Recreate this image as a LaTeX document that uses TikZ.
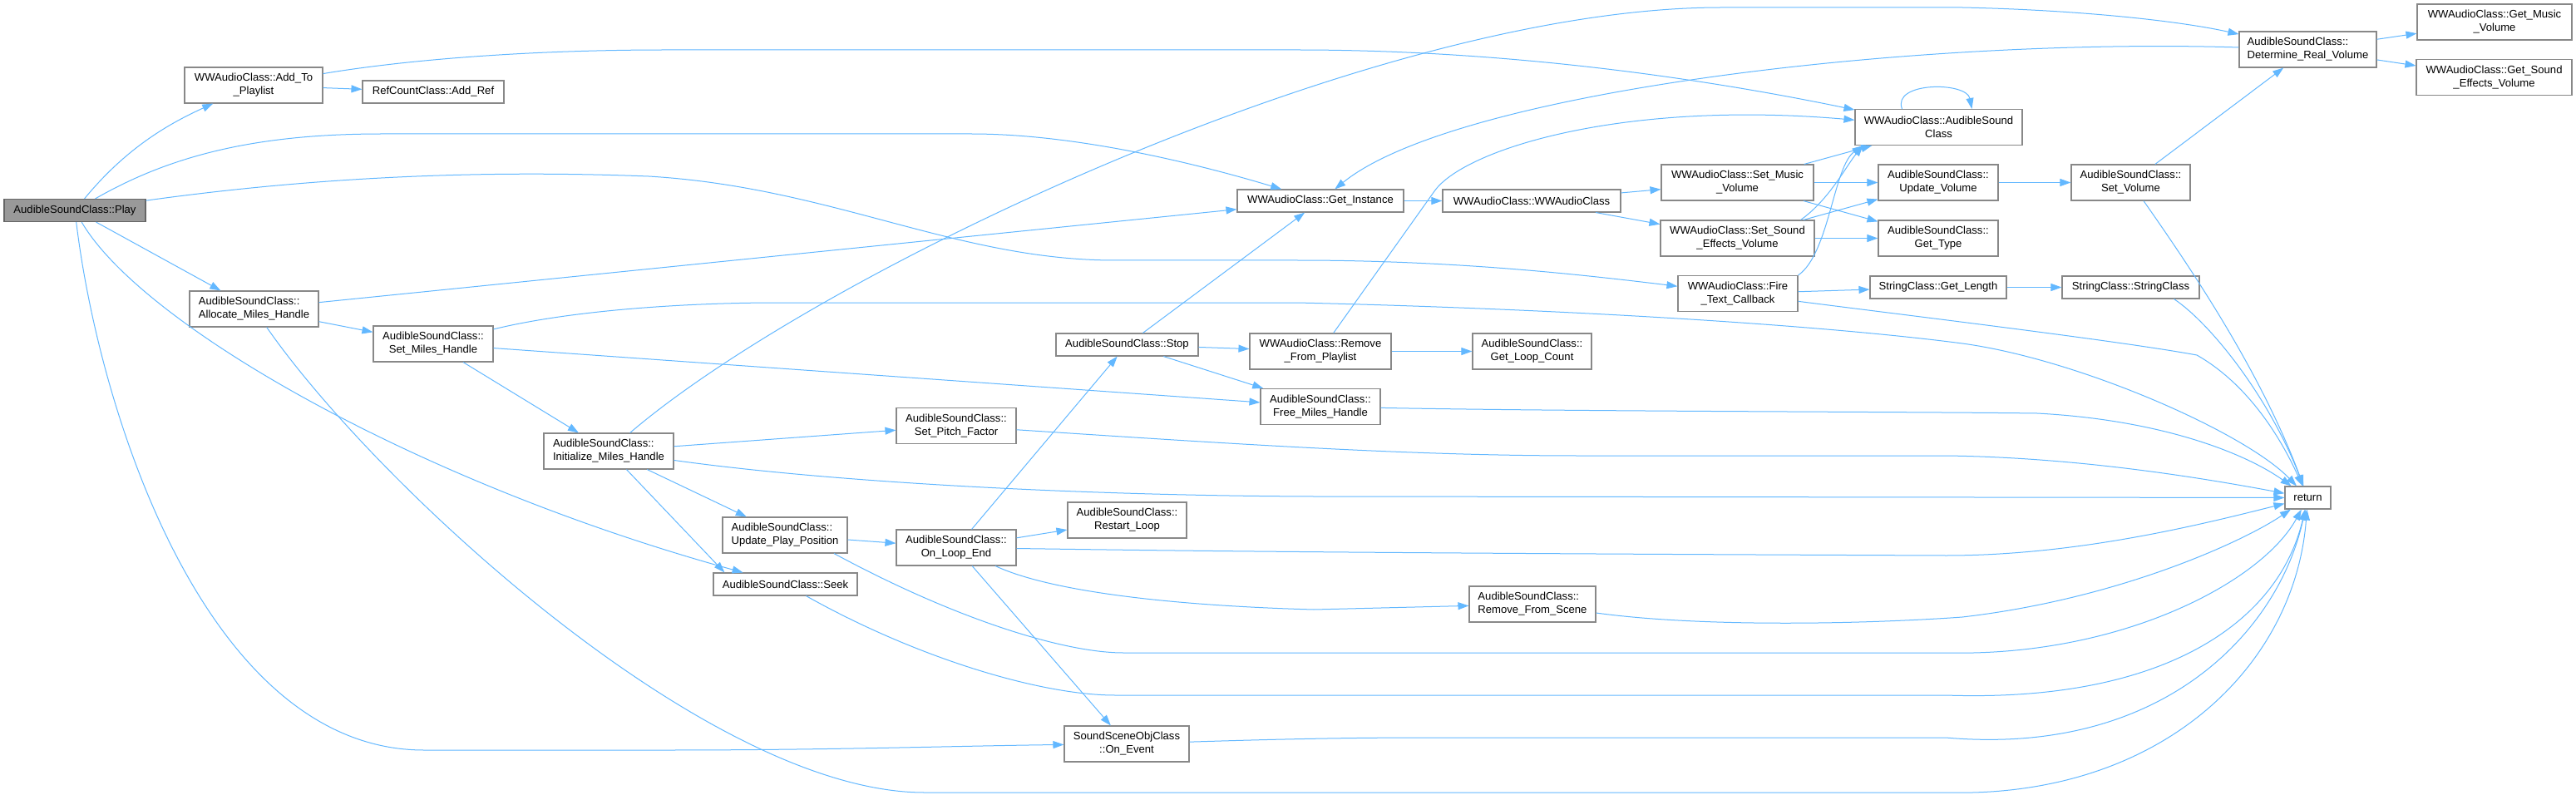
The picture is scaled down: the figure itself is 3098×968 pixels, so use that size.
\documentclass[tikz,border=0pt]{standalone}
\usepackage{fontspec}
\setmainfont{Liberation Sans}
\usetikzlibrary{arrows.meta,calc}
\definecolor{edgec}{HTML}{63B8FF}
\definecolor{nbord}{HTML}{888888}
\definecolor{rootfill}{HTML}{999999}
\definecolor{rootbord}{HTML}{666666}
\begin{document}
\begin{tikzpicture}[x=1pt,y=-1pt,
  fn/.style={draw=nbord, fill=white, line width=1.1pt, inner sep=0pt,
    font=\fontsize{13.1}{16}\selectfont, minimum height=43pt, align=center},
  lft/.style={align=left},
  one/.style={minimum height=27pt},
  rootn/.style={fill=rootfill, draw=rootbord},
  e/.style={draw=edgec, line width=1pt, -{Triangle[length=13pt,width=9pt]}},
]
\fill[white] (0,0) rectangle (3098,968);
\useasboundingbox (0,0) rectangle (3098,968);

% nodes
\node[fn, one, rootn, minimum width=170pt] (play) at (90,253) {AudibleSoundClass::Play};
\node[fn, minimum width=166pt] (addpl) at (305,102.5) {WWAudioClass::Add\_To\\\_Playlist};
\node[fn, one, minimum width=170pt] (addref) at (521,110.5) {RefCountClass::Add\_Ref};
\node[fn, lft, minimum width=155pt] (alloc) at (305.5,371.5) {AudibleSoundClass::\\Allocate\_Miles\_Handle};
\node[fn, minimum width=144pt] (setmh) at (521,413.5) {AudibleSoundClass::\\Set\_Miles\_Handle};
\node[fn, lft, minimum width=156pt] (init) at (732,542.5) {AudibleSoundClass::\\Initialize\_Miles\_Handle};
\node[fn, minimum width=144pt] (pitch) at (1150,512) {AudibleSoundClass::\\Set\_Pitch\_Factor};
\node[fn, lft, minimum width=150pt] (upd) at (944,643.5) {AudibleSoundClass::\\Update\_Play\_Position};
\node[fn, one, minimum width=173pt] (seek) at (944.5,702.5) {AudibleSoundClass::Seek};
\node[fn, minimum width=144pt] (loopend) at (1150,658.5) {AudibleSoundClass::\\On\_Loop\_End};
\node[fn, minimum width=143pt] (restart) at (1355.5,625.5) {AudibleSoundClass::\\Restart\_Loop};
\node[fn, minimum width=150pt] (onevent) at (1355,894.5) {SoundSceneObjClass\\::On\_Event};
\node[fn, one, minimum width=171pt] (stop) at (1355.5,414.5) {AudibleSoundClass::Stop};
\node[fn, minimum width=170pt] (rmpl) at (1588,422.5) {WWAudioClass::Remove\\\_From\_Playlist};
\node[fn, minimum width=144pt] (freemh) at (1588,489) {AudibleSoundClass::\\Free\_Miles\_Handle};
\node[fn, one, minimum width=200pt] (getinst) at (1588,241.5) {WWAudioClass::Get\_Instance};
\node[fn, one, minimum width=214pt] (wwctor) at (1842,241.5) {WWAudioClass::WWAudioClass};
\node[fn, minimum width=183pt] (setmusic) at (2089.5,219.5) {WWAudioClass::Set\_Music\\\_Volume};
\node[fn, minimum width=185pt] (setsfx) at (2089.5,286.5) {WWAudioClass::Set\_Sound\\\_Effects\_Volume};
\node[fn, minimum width=144pt] (fire) at (2090,353) {WWAudioClass::Fire\\\_Text\_Callback};
\node[fn, minimum width=143pt] (loopcount) at (1842.5,422.5) {AudibleSoundClass::\\Get\_Loop\_Count};
\node[fn, minimum width=201pt] (audctor) at (2331.5,153) {WWAudioClass::AudibleSound\\Class};
\node[fn, minimum width=144pt] (updvol) at (2331,219.5) {AudibleSoundClass::\\Update\_Volume};
\node[fn, minimum width=144pt] (gettype) at (2331,286.5) {AudibleSoundClass::\\Get\_Type};
\node[fn, one, minimum width=164pt] (getlen) at (2331,345.5) {StringClass::Get\_Length};
\node[fn, minimum width=143pt] (setvol) at (2562.5,219.5) {AudibleSoundClass::\\Set\_Volume};
\node[fn, one, minimum width=165pt] (strctor) at (2562.5,345.5) {StringClass::StringClass};
\node[fn, lft, minimum width=165pt] (detvol) at (2775.5,59.5) {AudibleSoundClass::\\Determine\_Real\_Volume};
\node[fn, minimum width=186pt] (getmusic) at (3000,26.5) {WWAudioClass::Get\_Music\\\_Volume};
\node[fn, minimum width=187pt] (getsfx) at (2999.5,93) {WWAudioClass::Get\_Sound\\\_Effects\_Volume};
\node[fn, one, minimum width=55pt] (ret) at (2775.5,598.5) {return};
\node[fn, lft, minimum width=152pt] (rmscene) at (1843,726.5) {AudibleSoundClass::\\Remove\_From\_Scene};

% edges from Play
\draw[e] (play) .. controls (150,180) and (200,150) .. (addpl);
\draw[e] (play) .. controls (200,190) and (300,161) .. (459,161) -- (1168,161) .. controls (1300,161) and (1450,200) .. (getinst);
\draw[e] (play) .. controls (400,210) and (600,205) .. (780,212) .. controls (1000,225) and (1150,313) .. (1341,313) -- (1560,313) .. controls (1750,313) and (1900,330) .. (fire);
\draw[e] (play) -- (alloc);
\draw[e] (play) .. controls (170,390) and (500,580) .. (seek);
\draw[e] (play) .. controls (120,500) and (250,902) .. (510,902) -- (800,902) .. controls (1000,902) and (1150,897) .. (onevent);

% Add_To_Playlist
\draw[e] (addpl) -- (addref);
\draw[e] (addpl) .. controls (500,70) and (650,60) .. (800,60) -- (1560,60) .. controls (1850,60) and (2100,105) .. (audctor);

% Allocate
\draw[e] (alloc) -- (getinst);
\draw[e] (alloc) -- (setmh);
\draw[e] (alloc) .. controls (450,580) and (850,953) .. (1112,953) -- (2340,953) .. controls (2600,960) and (2760,800) .. (ret);

% Set_Miles_Handle
\draw[e] (setmh) .. controls (700,370) and (850,364) .. (933,364) -- (1560,364) .. controls (1900,372) and (2200,392) .. (2360,413) .. controls (2500,432) and (2700,520) .. (ret);
\draw[e] (setmh) -- (freemh);
\draw[e] (setmh) -- (init);

% Initialize
\draw[e] (init) .. controls (980,330) and (1650,9) .. (2070,9) -- (2360,9) .. controls (2500,12) and (2620,25) .. (detvol);
\draw[e] (init) -- (pitch);
\draw[e] (init) .. controls (1000,580) and (1300,596) .. (1580,597) -- (ret);
\draw[e] (init) -- (upd);
\draw[e] ($(init.south west)+(100,0)$) -- ($(seek.north west)+(14,0)$);

% Update_Play_Position, Seek
\draw[e] (upd) -- (loopend);
\draw[e] ($(upd.south)+(59,0)$) .. controls (1150,745) and (1280,785) .. (1351,785) -- (2340,785) .. controls (2550,790) and (2720,700) .. (ret);
\draw[e] (seek) .. controls (1100,790) and (1250,836) .. (1341,836) -- (2340,836) .. controls (2600,845) and (2740,750) .. (ret);

% On_Loop_End
\draw[e] (loopend) -- (stop);
\draw[e] (loopend) -- (restart);
\draw[e] (loopend) .. controls (1400,662) and (1600,665) .. (2340,668) .. controls (2500,668) and (2650,630) .. (ret);
\draw[e] (loopend) .. controls (1260,710) and (1400,728) .. (1580,733) -- (rmscene);
\draw[e] (loopend) -- (onevent);
\draw[e] (rmscene) .. controls (2050,755) and (2250,750) .. (2360,742) .. controls (2550,720) and (2700,650) .. (ret);
\draw[e] (onevent) .. controls (1500,890) and (1600,887) .. (1713,887) -- (2340,887) .. controls (2600,910) and (2740,760) .. (ret);

% Stop, Remove_From_Playlist
\draw[e] (stop) -- (getinst);
\draw[e] (stop) -- (rmpl);
\draw[e] (stop) -- (freemh);
\draw[e] (rmpl) -- (loopcount);
\draw[e] (rmpl) -- (1725,230) .. controls (1760,180) and (1950,120) .. (audctor);
\draw[e] (freemh) .. controls (1900,495) and (2300,495) .. (2450,497) .. controls (2600,505) and (2700,545) .. (ret);
\draw[e] (pitch) .. controls (1500,535) and (1700,548) .. (1900,548) -- (2340,548) .. controls (2500,550) and (2650,575) .. (ret);

% WWAudioClass
\draw[e] (getinst) -- (wwctor);
\draw[e] (wwctor) -- (setmusic);
\draw[e] (wwctor) -- (setsfx);
\draw[e] (setmusic) -- (audctor);
\draw[e] (setmusic) -- (updvol);
\draw[e] (setmusic) -- (gettype);
\draw[e] ($(setsfx.north east)+(-17,0)$) .. controls (2200,240) and (2220,200) .. ($(audctor.south west)+(10,0)$);
\draw[e] (setsfx) -- (updvol);
\draw[e] (setsfx) -- (gettype);
\draw[e] (fire.north east) .. controls (2200,305) and (2205,200) .. ($(audctor.south west)+(10,0)$);
\draw[e] (fire) -- (getlen);
\draw[e] (fire) .. controls (2300,380) and (2550,410) .. (2642,427) .. controls (2700,460) and (2740,520) .. (ret);
\draw[e] ($(audctor.north west)+(57,0)$) .. controls (2275,98) and (2365,98) .. ($(audctor.north west)+(141,0)$);

% volume chain
\draw[e] (updvol) -- (setvol);
\draw[e] (setvol) -- (detvol);
\draw[e] (setvol) .. controls (2640,330) and (2720,450) .. (ret);
\draw[e] (detvol) .. controls (2300,45) and (1750,110) .. (getinst);
\draw[e] (detvol) -- (getmusic);
\draw[e] (detvol) -- (getsfx);
\draw[e] (getlen) -- (strctor);
\draw[e] ($(strctor.south)+(52,0)$) .. controls (2660,390) and (2730,480) .. (ret);
\end{tikzpicture}
\end{document}
